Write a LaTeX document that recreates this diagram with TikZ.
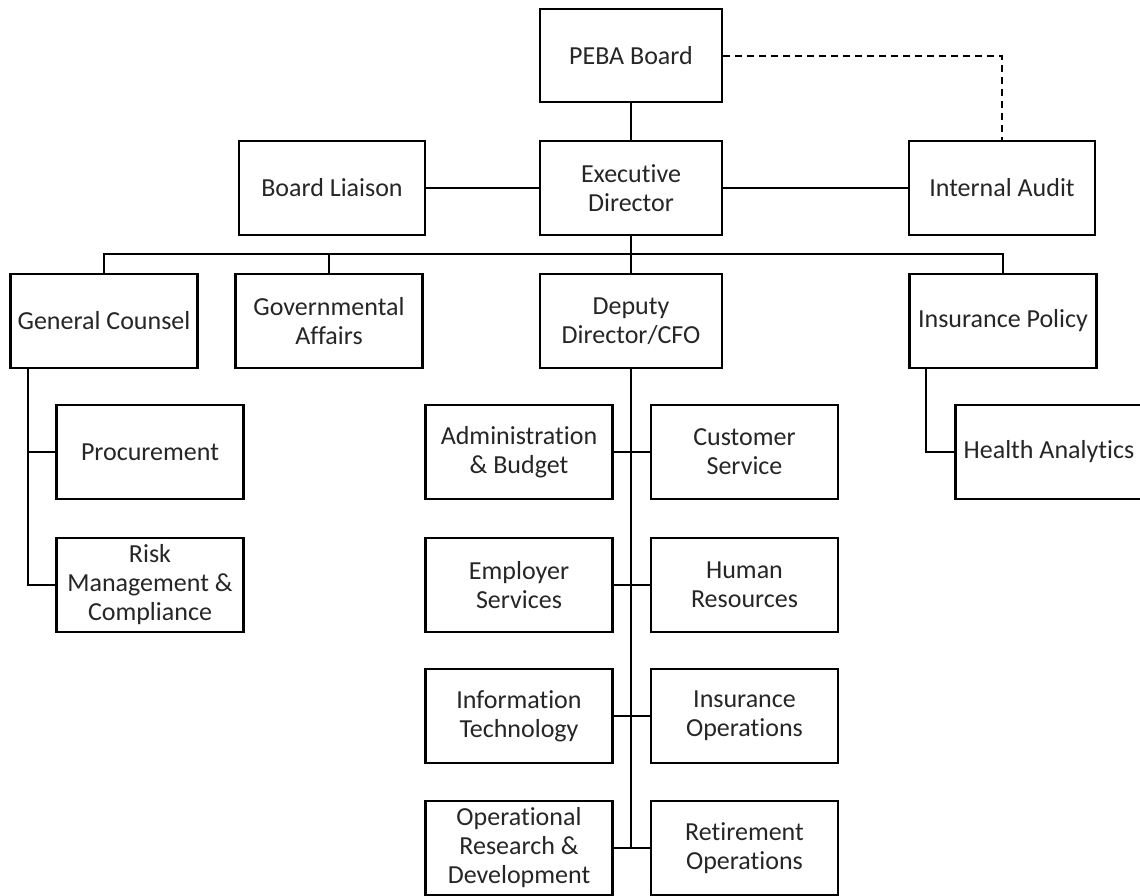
\documentclass[tikz,border=0pt]{standalone}
\usepackage{fontspec}
\setmainfont[Ligatures=NoCommon]{Carlito}
\begin{document}
\begin{tikzpicture}[x=1pt,y=-1pt,
  box/.style={draw=black,line width=2.3pt,fill=white,minimum width=187pt,minimum height=94pt,
    align=center,inner sep=1pt,font=\fontsize{26}{29}\selectfont,text=black!85},
  conn/.style={line width=2pt,draw=black},
  dconn/.style={line width=2pt,draw=black,dash pattern=on 7pt off 5pt}]
\useasboundingbox (0,0) rectangle (1140,895);
% top
\node[box,minimum width=182pt,minimum height=93pt] (peba) at (631,55.5) {PEBA Board};
\node[box,minimum width=182pt] (ed) at (631,188) {Executive\\Director};
\node[box,minimum width=186pt] (bl) at (332,188) {Board Liaison};
\node[box,minimum width=186pt] (ia) at (1002,188) {Internal Audit};
% row 2
\node[box] (gc) at (104,321) {General Counsel};
\node[box] (ga) at (329,321) {Governmental\\Affairs};
\node[box,minimum width=182pt] (dep) at (631,321) {Deputy\\Director/CFO};
\node[box] (ip) at (1003,321) {Insurance Policy};
% general counsel children
\node[box] (proc) at (150,452) {Procurement};
\node[box] (risk) at (150,585) {Risk\\Management \&\\Compliance};
% deputy children
\node[box] (adm) at (519,452) {Administration\\\& Budget};
\node[box] (cs) at (744.5,452) {Customer\\Service};
\node[box] (es) at (519,585) {Employer\\Services};
\node[box] (hr) at (744.5,585) {Human\\Resources};
\node[box] (it) at (519,716) {Information\\Technology};
\node[box] (io) at (744.5,716) {Insurance\\Operations};
\node[box] (ord) at (519,848) {Operational\\Research \&\\Development};
\node[box] (ro) at (744.5,848) {Retirement\\Operations};
% insurance policy child
\node[box] (ha) at (1049,452) {Health Analytics};
% connectors
\coordinate (bus) at (631,254);
\draw[conn] (peba) -- (ed);
\draw[conn] (bl) -- (ed);
\draw[conn] (ed) -- (ia);
\draw[dconn] (peba.east) -| (ia.north);
\draw[conn] (ed) -- (dep);
\draw[conn] (gc.north) |- (bus) -| (ip.north);
\draw[conn] (ga.north) -- (ga.north |- bus);
% GC branch
\coordinate (gcl) at ([xshift=19pt]gc.south west);
\draw[conn] (gcl) |- (risk.west);
\draw[conn] (proc.west) -- (proc.west -| gcl);
% Deputy branch
\draw[conn] (dep.south) -- (dep.south |- ord.east);
\draw[conn] (adm) -- (cs);
\draw[conn] (es) -- (hr);
\draw[conn] (it) -- (io);
\draw[conn] (ord) -- (ro);
% IP branch
\coordinate (ipl) at ([xshift=18pt]ip.south west);
\draw[conn] (ipl) |- (ha.west);
\end{tikzpicture}
\end{document}
